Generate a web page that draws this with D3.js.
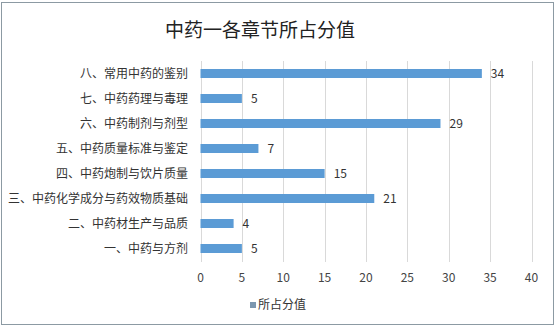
<!DOCTYPE html>
<html>
<head>
<meta charset="utf-8">
<script src="https://cdn.jsdelivr.net/npm/d3@7"></script>
<style>
  html, body { margin: 0; padding: 0; background: #fff; }
  svg { display: block; font-family: "Noto Sans CJK SC", "Microsoft YaHei", sans-serif; }
</style>
</head>
<body>
<div id="container"></div>
<script>
const title = "中药一各章节所占分值";
const categories = ["八、常用中药的鉴别", "七、中药药理与毒理", "六、中药制剂与剂型", "五、中药质量标准与鉴定",
  "四、中药炮制与饮片质量", "三、中药化学成分与药效物质基础", "二、中药材生产与品质", "一、中药与方剂"];
const values = [34, 5, 29, 7, 15, 21, 4, 5];
const ticks = [0, 5, 10, 15, 20, 25, 30, 35, 40];
const seriesName = "所占分值";

const width = 558, height = 328;
const barColor = "#5b9bd5";

const svg = d3.select("#container").append("svg")
  .attr("width", width)
  .attr("height", height);

// outer frame
svg.append("rect")
  .attr("x", 1.5).attr("y", 2.5)
  .attr("width", 552).attr("height", 322)
  .attr("fill", "#fff")
  .attr("stroke", "#8c9aa3");

svg.append("text")
  .attr("x", 260).attr("y", 37)
  .attr("text-anchor", "middle")
  .attr("font-size", 19)
  .attr("fill", "#222")
  .text(title);

const x = d3.scaleLinear().domain([0, 40]).range([200.5, 531.5]);
const y = d3.scaleBand().domain(categories).range([61, 261]).paddingInner(0.64).paddingOuter(0.32);

// gridlines
svg.append("g").selectAll("line")
  .data(ticks)
  .join("line")
  .attr("x1", d => Math.round(x(d)) + 0.5)
  .attr("x2", d => Math.round(x(d)) + 0.5)
  .attr("y1", 61).attr("y2", 262)
  .attr("stroke", "#d9d9d9");

// bars
svg.append("g").selectAll("rect")
  .data(values)
  .join("rect")
  .attr("x", x(0))
  .attr("y", (d, i) => y(categories[i]))
  .attr("width", d => x(d) - x(0))
  .attr("height", y.bandwidth())
  .attr("fill", barColor);

// value labels
svg.append("g").selectAll("text")
  .data(values)
  .join("text")
  .attr("x", d => x(d) + 9)
  .attr("y", (d, i) => y(categories[i]) + y.bandwidth() / 2)
  .attr("dy", "0.36em")
  .attr("font-size", 12)
  .attr("fill", "#333")
  .text(d => d);

// category labels
svg.append("g").selectAll("text")
  .data(categories)
  .join("text")
  .attr("x", 188)
  .attr("y", d => y(d) + y.bandwidth() / 2)
  .attr("dy", "0.36em")
  .attr("text-anchor", "end")
  .attr("font-size", 12)
  .attr("fill", "#333")
  .text(d => d);

// tick labels
svg.append("g").selectAll("text")
  .data(ticks)
  .join("text")
  .attr("x", d => x(d))
  .attr("y", 278)
  .attr("dy", "0.36em")
  .attr("text-anchor", "middle")
  .attr("font-size", 12)
  .attr("fill", "#444")
  .text(d => d);

// legend
const lg = svg.append("g").attr("transform", "translate(250,305)");
lg.append("rect")
  .attr("x", 0).attr("y", -3)
  .attr("width", 6).attr("height", 6)
  .attr("fill", "#7b97b0");
lg.append("text")
  .attr("x", 8).attr("y", 0)
  .attr("dy", "0.36em")
  .attr("font-size", 12)
  .attr("fill", "#333")
  .text(seriesName);
</script>
</body>
</html>
